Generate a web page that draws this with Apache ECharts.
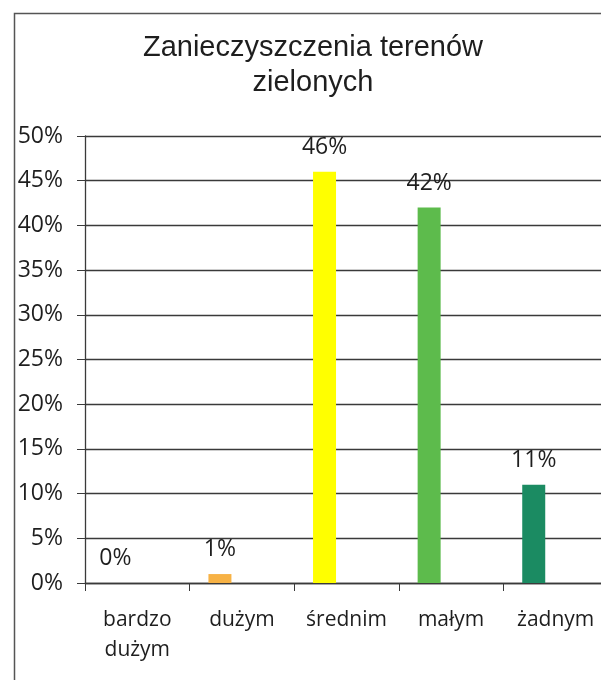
<!DOCTYPE html>
<html>
<head>
<meta charset="utf-8">
<script src="https://cdn.jsdelivr.net/npm/echarts@6/dist/echarts.min.js"></script>
<style>
  html, body { margin: 0; padding: 0; background: #fff; overflow: hidden; width: 601px; height: 680px; }
  #chart { width: 620px; height: 680px; }
</style>
</head>
<body>
<div id="chart"></div>
<script>
// Level of pollution of green areas (share of answers, %)
const categories = ['bardzo\ndużym', 'dużym', 'średnim', 'małym', 'żadnym'];
const shares = [0, 1, 46, 42, 11];
const barColors = ['#F7B245', '#F7B245', '#FFFF00', '#5DBB4C', '#1B8B62'];
const yTicks = { min: 0, max: 50, step: 5 };

const labelFont = '"Open Sans", "Noto Sans", sans-serif';
const inkColor = '#1e1e1e';
const ruleColor = '#3a3a3a';

const chart = echarts.init(document.getElementById('chart'), null, { renderer: 'canvas' });

chart.setOption({
  animation: false,
  backgroundColor: '#fff',
  graphic: [
    {
      // chart frame: left and top edges (right and bottom run past the page)
      type: 'polyline',
      shape: { points: [[14.5, 700], [14.5, 13.5], [660, 13.5]] },
      style: { fill: 'none', stroke: '#555', lineWidth: 1.5 },
      z: 0
    },
    {
      type: 'text',
      x: 313,
      y: 30,
      style: {
        text: 'Zanieczyszczenia terenów\nzielonych',
        font: '29px "Liberation Sans", Arial, sans-serif',
        fill: inkColor,
        textAlign: 'center',
        textVerticalAlign: 'top',
        lineHeight: 35
      },
      z: 10
    }
  ],
  grid: { left: 85, right: 12, top: 136, bottom: 97, containLabel: false },
  xAxis: {
    type: 'category',
    data: categories,
    axisLine: { lineStyle: { color: ruleColor, width: 1.3 } },
    axisTick: { show: true, length: 8, lineStyle: { color: ruleColor } },
    axisLabel: {
      interval: 0,
      margin: 22,
      color: inkColor,
      fontFamily: labelFont,
      fontSize: 21,
      lineHeight: 30
    }
  },
  yAxis: {
    type: 'value',
    min: yTicks.min,
    max: yTicks.max,
    interval: yTicks.step,
    axisLine: { show: true, lineStyle: { color: ruleColor, width: 1.3 } },
    axisTick: { show: true, length: 8, lineStyle: { color: ruleColor } },
    splitLine: { show: true, lineStyle: { color: ruleColor, width: 1.3 } },
    axisLabel: {
      margin: 22,
      color: inkColor,
      fontFamily: labelFont,
      fontSize: 23,
      formatter: '{value}%'
    }
  },
  series: [
    {
      type: 'bar',
      barWidth: 23,
      barGap: '91%',
      data: shares.map((v, i) => ({ value: v, itemStyle: { color: barColors[i] } })),
      label: {
        show: true,
        position: 'top',
        distance: 13,
        color: inkColor,
        fontFamily: labelFont,
        fontSize: 23,
        formatter: '{c}%'
      }
    },
    {
      // empty companion series keeps the bars left of the category centre
      type: 'bar',
      barWidth: 23,
      data: []
    }
  ]
});
</script>
</body>
</html>
